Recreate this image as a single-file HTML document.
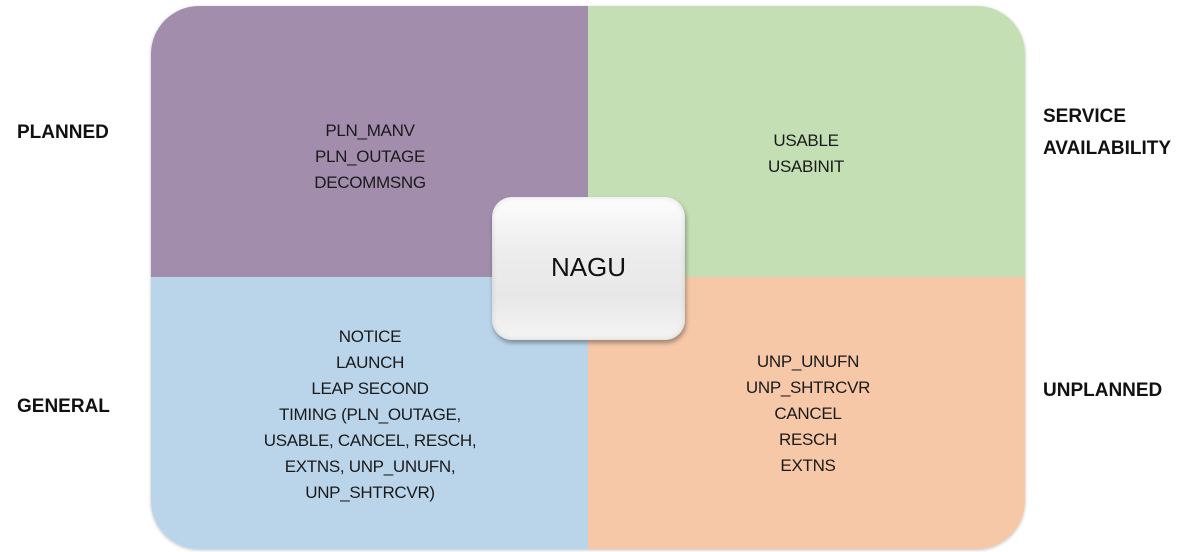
<!DOCTYPE html>
<html><head><style>
body{margin:0;width:1200px;height:552px;background:#fff;position:relative;overflow:hidden;font-family:"Liberation Sans",sans-serif;}
.q{position:absolute;}
.t{position:absolute;text-align:center;font-size:17px;line-height:26px;color:#1a1a1a;transform:translateX(-50%);white-space:nowrap;letter-spacing:-0.3px}
.l{position:absolute;font-weight:bold;font-size:19px;line-height:32px;color:#111;white-space:nowrap}
</style></head><body>
<div class="q" style="left:151px;top:6px;width:874px;height:543px;border-radius:48px;overflow:hidden;box-shadow:0 1px 3px rgba(0,0,0,0.25)">
  <div class="q" style="left:0;top:0;width:437px;height:271px;background:#a28dad"></div>
  <div class="q" style="left:437px;top:0;width:437px;height:271px;background:#c4dfb3"></div>
  <div class="q" style="left:0;top:271px;width:437px;height:272px;background:#bad5ea"></div>
  <div class="q" style="left:437px;top:271px;width:437px;height:272px;background:#f6c8a8"></div>
</div>
<div class="t" style="left:370px;top:118px">PLN_MANV<br>PLN_OUTAGE<br>DECOMMSNG</div>
<div class="t" style="left:806px;top:128px">USABLE<br>USABINIT</div>
<div class="t" style="left:370px;top:324px">NOTICE<br>LAUNCH<br>LEAP SECOND<br>TIMING (PLN_OUTAGE,<br>USABLE, CANCEL, RESCH,<br>EXTNS, UNP_UNUFN,<br>UNP_SHTRCVR)</div>
<div class="t" style="left:808px;top:349px">UNP_UNUFN<br>UNP_SHTRCVR<br>CANCEL<br>RESCH<br>EXTNS</div>
<div class="q" style="left:492px;top:197px;width:193px;height:143px;border-radius:20px;background:linear-gradient(#fdfdfd,#ececec 40%,#e8e8e8 70%,#f4f4f4);box-shadow:1px 3px 5px rgba(0,0,0,0.35),inset 0 0 6px rgba(0,0,0,0.12);"></div>
<div class="q" style="left:492px;top:252px;width:193px;text-align:center;font-size:26px;color:#111">NAGU</div>
<div class="l" style="left:17px;top:117px">PLANNED</div>
<div class="l" style="left:1043px;top:101px">SERVICE<br>AVAILABILITY</div>
<div class="l" style="left:17px;top:391px">GENERAL</div>
<div class="l" style="left:1043px;top:375px">UNPLANNED</div>
</body></html>
